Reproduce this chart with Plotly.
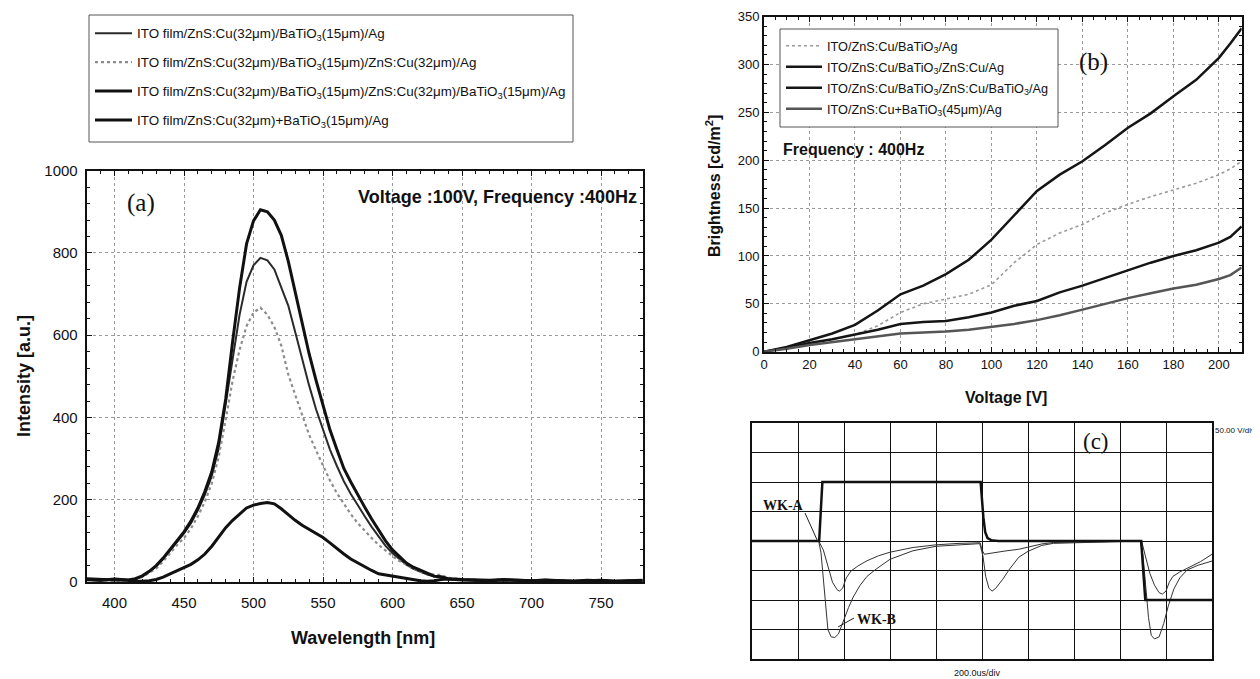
import plotly.graph_objects as go

# The page body adds an 8 px margin; the figure is shrunk and shifted so that
# reference pixel coordinates map exactly onto the screenshot.
OFF = 8
W, H = 1260 - OFF, 679 - OFF
SANS = "Liberation Sans, Arial, sans-serif"
SERIF = "Liberation Serif, Times New Roman, serif"

# ---------------- Panel (a): EL spectra ----------------
wavelength = [380, 390, 400, 410, 415, 420, 425, 430, 435, 440, 445, 450, 455, 460, 465, 470,
              475, 480, 485, 490, 495, 500, 505, 510, 515, 520, 525, 530, 535, 540, 545, 550,
              555, 560, 565, 570, 575, 580, 585, 590, 595, 600, 605, 610, 615, 620, 625, 630,
              635, 640, 650, 660, 670, 680, 690, 700, 710, 720, 730, 740, 750, 760, 770, 780]

spec_single = [5, 3, 6, 4, 7, 14, 25, 38, 56, 77, 98, 118, 143, 174, 212, 258,
               325, 430, 545, 650, 730, 770, 788, 782, 760, 718, 672, 608, 540, 478, 420, 370,
               322, 282, 245, 214, 186, 160, 134, 110, 88, 70, 55, 42, 32, 24, 18, 14,
               12, 7, 5, 4, 3, 5, 3, 4, 4, 3, 3, 2, 4, 2, 3, 3]
spec_double_zns = [4, 5, 3, 6, 6, 12, 22, 33, 50, 70, 90, 107, 130, 160, 195, 240,
                   305, 395, 490, 565, 622, 655, 667, 650, 620, 575, 505, 455, 405, 358, 320, 282,
                   247, 216, 189, 165, 143, 124, 107, 90, 76, 63, 51, 41, 33, 26, 20, 18,
                   17, 10, 7, 5, 4, 6, 4, 4, 5, 4, 3, 3, 4, 3, 2, 3]
spec_double_bt = [6, 4, 7, 5, 8, 15, 26, 40, 58, 80, 102, 122, 148, 180, 220, 268,
                  340, 445, 585, 715, 822, 878, 905, 900, 880, 843, 780, 705, 627, 555, 490, 428,
                  370, 322, 276, 243, 211, 182, 153, 126, 100, 78, 61, 46, 36, 28, 20, 14,
                  13, 8, 6, 5, 4, 6, 4, 3, 5, 4, 2, 3, 4, 2, 3, 3]
spec_mixed = [8, 6, 5, 4, 2, 2, 3, 6, 12, 20, 28, 36, 43, 54, 68, 87,
              110, 132, 150, 166, 180, 187, 191, 193, 190, 178, 163, 150, 138, 128, 118, 108,
              95, 81, 68, 56, 46, 36, 28, 20, 17, 15, 11, 8, 5, 3, 2, 3,
              6, 7, 5, 4, 3, 5, 4, 3, 4, 3, 2, 4, 3, 2, 3, 4]

names_a = ["ITO film/ZnS:Cu(32μm)/BaTiO<sub>3</sub>(15μm)/Ag",
           "ITO film/ZnS:Cu(32μm)/BaTiO<sub>3</sub>(15μm)/ZnS:Cu(32μm)/Ag",
           "ITO film/ZnS:Cu(32μm)/BaTiO<sub>3</sub>(15μm)/ZnS:Cu(32μm)/BaTiO<sub>3</sub>(15μm)/Ag",
           "ITO film/ZnS:Cu(32μm)+BaTiO<sub>3</sub>(15μm)/Ag"]

# ---------------- Panel (b): brightness vs voltage ----------------
voltage = [0, 10, 20, 30, 40, 50, 60, 70, 80, 90, 100, 110, 120, 130, 140, 150, 160, 170, 180, 190, 200, 205, 210]
bright_single = [0, 4, 8, 13, 18, 27, 41, 50, 55, 60, 70, 93, 112, 124, 133, 145, 154, 162, 169, 176, 185, 191, 199]
bright_zns = [0, 4, 9, 13, 18, 23, 29, 31, 32, 36, 41, 48, 53, 62, 69, 77, 85, 93, 100, 106, 114, 120, 131]
bright_bt = [0, 5, 12, 19, 28, 43, 60, 69, 81, 96, 117, 143, 168, 185, 199, 216, 234, 249, 267, 284, 307, 322, 338]
bright_mixed = [0, 3, 7, 10, 13, 16, 19, 20, 21, 23, 26, 29, 33, 38, 44, 50, 56, 61, 66, 70, 76, 80, 88]

names_b = ["ITO/ZnS:Cu/BaTiO<sub>3</sub>/Ag",
           "ITO/ZnS:Cu/BaTiO<sub>3</sub>/ZnS:Cu/Ag",
           "ITO/ZnS:Cu/BaTiO<sub>3</sub>/ZnS:Cu/BaTiO<sub>3</sub>/Ag",
           "ITO/ZnS:Cu+BaTiO<sub>3</sub>(45μm)/Ag"]

# ---------------- Panel (c): oscilloscope traces (divisions) ----------------
wka_t = [0, 1.46, 1.53, 4.97, 5.03, 5.07, 5.12, 5.2, 5.35, 8.46, 8.55, 10]
wka_v = [0, 0, 2, 2, 0.8, 0.3, 0.1, 0.03, 0, 0, -2, -2]

shallow_t = [0, 1.45, 1.55, 1.65, 1.75, 1.85, 1.9, 1.97, 2.05, 2.15, 2.3, 2.5, 2.75, 3.0, 3.5, 4.0, 4.5, 4.96,
             5.0, 5.05, 5.15, 5.3, 5.5, 5.8, 6.1, 6.3, 6.55, 8.47,
             8.55, 8.65, 8.75, 8.85, 8.92, 9.0, 9.07, 9.15, 9.3, 9.5, 9.75, 10]
shallow_v = [0, 0, -0.3, -0.9, -1.4, -1.65, -1.7, -1.6, -1.25, -1.02, -0.85, -0.67, -0.5, -0.38, -0.22, -0.13, -0.08, -0.06,
             -0.3, -0.45, -0.42, -0.38, -0.34, -0.28, -0.17, -0.1, -0.05, 0,
             -0.5, -1.1, -1.5, -1.75, -1.8, -1.7, -1.4, -1.2, -1.05, -0.9, -0.7, -0.45]

deep_t = [0, 1.45, 1.5, 1.55, 1.6, 1.65, 1.72, 1.8, 1.88, 1.95, 2.02, 2.1, 2.2, 2.35, 2.5, 2.7, 3.0, 3.5, 4.0, 4.5, 4.95,
          5.02, 5.08, 5.15, 5.22, 5.3, 5.45, 5.6, 5.8, 6.0, 6.3, 6.55, 8.44,
          8.5, 8.56, 8.62, 8.68, 8.75, 8.85, 8.95, 9.05, 9.17, 9.3, 9.46, 9.7, 10]
deep_v = [0, 0, -0.4, -1.2, -2.2, -3.0, -3.25, -3.27, -3.15, -2.85, -2.6, -2.25, -1.9, -1.5, -1.2, -0.95, -0.62, -0.33, -0.18, -0.12, -0.09,
          -0.5, -1.2, -1.6, -1.7, -1.6, -1.3, -0.95, -0.55, -0.35, -0.15, -0.08, 0,
          -0.5, -1.5, -2.6, -3.2, -3.32, -3.25, -2.8, -2.2, -1.63, -1.25, -0.98, -0.82, -0.68]


def px(x):
    return (x - OFF) / W


def py(y):
    return 1 - (y - OFF) / H


fig = go.Figure()

# panel (a) traces
styles_a = [dict(color="#2a2a2a", width=2),
            dict(color="#8c8c8c", width=2.2, dash="dot"),
            dict(color="#111111", width=3),
            dict(color="#111111", width=3)]
series_a = [spec_single, spec_double_zns, spec_double_bt, spec_mixed]
for i, (nm, ys, st) in enumerate(zip(names_a, series_a, styles_a)):
    fig.add_trace(go.Scatter(x=wavelength, y=ys, mode="lines", name=nm, line=st,
                             xaxis="x", yaxis="y", legend="legend", legendgroup=f"a{i}"))

# panel (b) traces
styles_b = [dict(color="#9a9a9a", width=1.6, dash="dot"),
            dict(color="#151515", width=2.5),
            dict(color="#151515", width=2.5),
            dict(color="#555555", width=2.5)]
series_b = [bright_single, bright_zns, bright_bt, bright_mixed]
for i, (nm, ys, st) in enumerate(zip(names_b, series_b, styles_b)):
    fig.add_trace(go.Scatter(x=voltage, y=ys, mode="lines", name=nm, line=st,
                             xaxis="x2", yaxis="y2", legend="legend2", legendgroup=f"b{i}"))

# panel (c) traces
fig.add_trace(go.Scatter(x=shallow_t, y=shallow_v, mode="lines", line=dict(color="#333", width=1),
                         xaxis="x3", yaxis="y3", showlegend=False))
fig.add_trace(go.Scatter(x=deep_t, y=deep_v, mode="lines", line=dict(color="#333", width=1),
                         xaxis="x3", yaxis="y3", showlegend=False))
fig.add_trace(go.Scatter(x=wka_t, y=wka_v, mode="lines", line=dict(color="#111", width=2.5),
                         xaxis="x3", yaxis="y3", showlegend=False))

grid_common = dict(showgrid=True, gridcolor="#9a9a9a", gridwidth=1, griddash="dot",
                   zeroline=False, showline=True, linecolor="#111", mirror="allticks",
                   ticks="inside", tickcolor="#111", automargin=False)

fig.update_layout(
    width=W, height=H,
    margin=dict(l=0, r=0, t=0, b=0, pad=0, autoexpand=False),
    paper_bgcolor="white", plot_bgcolor="white",
    font=dict(family=SANS, color="#111"),
    xaxis=dict(domain=[px(86.7), px(642.7)], anchor="y", range=[380, 780],
               tickvals=[400, 450, 500, 550, 600, 650, 700, 750], linewidth=2, ticklen=5,
               tickfont=dict(size=15), ticklabelstandoff=6,
               minor=dict(ticks="inside", ticklen=3, dtick=10, tick0=380, showgrid=False, tickcolor="#111"),
               **grid_common),
    yaxis=dict(domain=[py(582), py(170.7)], anchor="x", range=[0, 1000],
               tickvals=[0, 200, 400, 600, 800, 1000], linewidth=2, ticklen=5,
               tickfont=dict(size=15), ticklabelstandoff=4,
               minor=dict(ticks="inside", ticklen=3, dtick=40, showgrid=False, tickcolor="#111"),
               **grid_common),
    xaxis2=dict(domain=[px(764), px(1241.7)], anchor="y2", range=[0, 210],
                tickvals=list(range(0, 201, 20)), linewidth=1.8, ticklen=5,
                tickfont=dict(size=13),
                minor=dict(ticks="inside", ticklen=3, dtick=5, showgrid=False, tickcolor="#111"),
                **grid_common),
    yaxis2=dict(domain=[py(351.7), py(16.7)], anchor="x2", range=[0, 350],
                tickvals=list(range(0, 351, 50)), linewidth=1.8, ticklen=5,
                tickfont=dict(size=13),
                minor=dict(ticks="inside", ticklen=3, dtick=10, showgrid=False, tickcolor="#111"),
                **grid_common),
    xaxis3=dict(domain=[px(752), px(1212)], anchor="y3", range=[0, 10], dtick=1,
                showgrid=True, gridcolor="#111", gridwidth=1, zeroline=False,
                showline=True, linecolor="#111", linewidth=1.5, mirror=True,
                showticklabels=False, ticks="", automargin=False),
    yaxis3=dict(domain=[py(659), py(423)], anchor="x3", range=[-4, 4], dtick=1,
                showgrid=True, gridcolor="#111", gridwidth=1, zeroline=False,
                showline=True, linecolor="#111", linewidth=1.5, mirror=True,
                showticklabels=False, ticks="", automargin=False),
    legend=dict(x=px(90), y=py(18), xanchor="left", yanchor="top",
                bgcolor="rgba(0,0,0,0)", borderwidth=0,
                font=dict(size=13.4, family=SANS, color="#111"),
                tracegroupgap=8.5, itemwidth=37),
    legend2=dict(x=px(781), y=py(31), xanchor="left", yanchor="top",
                 bgcolor="rgba(0,0,0,0)", borderwidth=0,
                 font=dict(size=12.7, family=SANS, color="#111"),
                 tracegroupgap=1.5, itemwidth=36),
)

# legend frames
fig.add_shape(type="rect", xref="paper", yref="paper", x0=px(89), x1=px(573), y0=py(142), y1=py(15),
              line=dict(color="#555", width=1), fillcolor="white", layer="above")
fig.add_shape(type="rect", xref="paper", yref="paper", x0=px(780), x1=px(1058), y0=py(127), y1=py(29),
              line=dict(color="#555", width=1), fillcolor="white", layer="above")

ann = []
# axis titles
ann.append(dict(text="<b>Wavelength [nm]</b>", x=px(363), y=py(638), font=dict(size=18)))
ann.append(dict(text="<b>Intensity [a.u.]</b>", x=px(24), y=py(376), textangle=-90, font=dict(size=18)))
ann.append(dict(text="<b>Voltage [V]</b>", x=px(1006), y=py(397), font=dict(size=16)))
ann.append(dict(text="<b>Brightness [cd/m<sup>2</sup>]</b>", x=px(713), y=py(186), textangle=-90, font=dict(size=16)))
# panel labels
ann.append(dict(text="(a)", x=px(141), y=py(203), font=dict(size=25, family=SERIF)))
ann.append(dict(text="(b)", x=px(1093), y=py(62), font=dict(size=25, family=SERIF)))
ann.append(dict(text="(c)", x=px(1096), y=py(441), font=dict(size=23, family=SERIF)))
# condition texts
ann.append(dict(text="<b>Voltage :100V, Frequency :400Hz</b>", x=px(639), y=py(197), xanchor="right",
                font=dict(size=18)))
ann.append(dict(text="<b>Frequency : 400Hz</b>", x=px(781), y=py(150), xanchor="left", font=dict(size=16)))
# oscilloscope labels
ann.append(dict(text="50.00 V/div", x=px(1213), y=py(430), xanchor="left", font=dict(size=8)))
ann.append(dict(text="200.0us/div", x=px(977), y=py(673), font=dict(size=9)))
ann.append(dict(text="<b>WK-A</b>", x=px(784), y=py(505), font=dict(size=14, family=SERIF)))
ann.append(dict(text="<b>WK-B</b>", x=px(876), y=py(619), font=dict(size=14, family=SERIF)))
for a in ann:
    a.setdefault("xref", "paper")
    a.setdefault("yref", "paper")
    a.setdefault("showarrow", False)
    a.setdefault("xanchor", "center")
    a.setdefault("yanchor", "middle")
fig.update_layout(annotations=ann)

# leader lines for WK-A / WK-B
fig.add_shape(type="line", xref="paper", yref="paper", x0=px(805), y0=py(513), x1=px(818), y1=py(542),
              line=dict(color="#222", width=1))
fig.add_shape(type="line", xref="paper", yref="paper", x0=px(854), y0=py(618), x1=px(838), y1=py(627),
              line=dict(color="#222", width=1))

fig.write_html("out.html")
